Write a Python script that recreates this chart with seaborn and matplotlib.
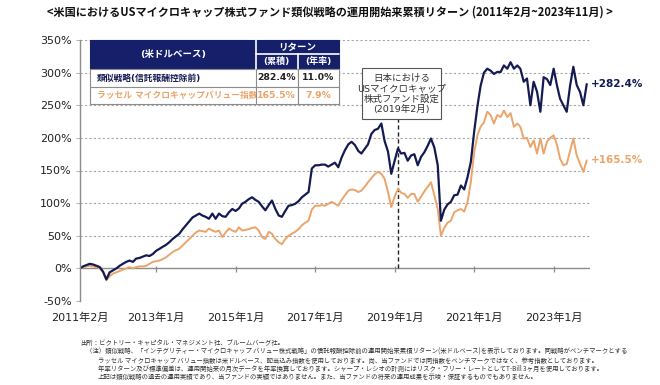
import pandas as pd
import seaborn as sns
from matplotlib import pyplot as plt
from matplotlib.patches import Rectangle

NAVY = '#141B52'
ORANGE = '#EBA46A'
HEAD = '#16206A'
GRID = '#A6A6A6'

TITLE = '<米国におけるUSマイクロキャップ株式ファンド類似戦略の運用開始来累積リターン (2011年2月~2023年11月) >'
STRATEGY = '類似戦略(信託報酬控除前)'
INDEX = 'ラッセル マイクロキャップバリュー指数'

# monthly cumulative return (%), 2011-02 .. 2023-11
strategy = [
    0, 3, 5, 7, 6, 4, 2, -5, -17, -6, -3,
    0, 4, 7, 10, 12, 10, 15, 16, 18, 20, 19, 22,
    27, 30, 33, 36, 40, 45, 49, 53, 60, 66, 72, 78,
    81, 84, 81, 79, 76, 84, 76, 84, 80, 79, 86, 91,
    88, 92, 99, 102, 106, 109, 105, 102, 95, 89, 97, 104,
    91, 81, 79, 88, 96, 97, 99, 103, 109, 113, 117, 153,
    158, 158, 159, 159, 156, 159, 162, 155, 170, 181, 190, 194,
    189, 180, 176, 183, 190, 206, 212, 214, 222, 195, 179, 145,
    165, 184, 176, 177, 165, 173, 175, 158, 171, 178, 188, 199,
    185, 158, 73, 90, 98, 102, 112, 113, 127, 121, 140, 163,
    210, 250, 280, 300, 306, 303, 298, 301, 301, 311, 306, 316,
    306, 311, 306, 286, 291, 250, 286, 271, 240, 293, 290, 281,
    306, 280, 260, 250, 240, 280, 309, 281, 270, 250, 282.4,
]
russell = [
    0, 2, 3, 4, 3, 2, 0, -6, -18, -12, -8,
    -6, -4, -2, 0, 2, 0, 2, 3, 3, 4, 7, 10,
    11, 12, 14, 17, 21, 25, 28, 30, 35, 40, 45, 50,
    55, 58, 57, 56, 61, 58, 56, 58, 48, 55, 61, 58,
    56, 63, 58, 59, 60, 62, 63, 58, 48, 45, 56, 53,
    45, 40, 37, 45, 50, 53, 56, 60, 66, 70, 73, 90,
    96, 96, 97, 96, 99, 102, 99, 96, 105, 112, 119, 121,
    120, 117, 119, 125, 132, 138, 144, 148, 145, 137, 117, 94,
    110, 122, 116, 114, 108, 114, 114, 102, 110, 118, 125, 132,
    112, 91, 50, 62, 70, 73, 86, 89, 91, 87, 102, 132,
    178, 205, 217, 224, 240, 235, 222, 235, 232, 242, 232, 238,
    217, 222, 217, 199, 200, 186, 196, 176, 199, 176, 194, 200,
    204, 189, 168, 158, 160, 180, 199, 173, 160, 148, 165.5,
]
months = pd.date_range('2011-02-01', periods=len(strategy), freq='MS')

tick_dates = pd.to_datetime(['2011-02-01', '2013-01-01', '2015-01-01', '2017-01-01',
                             '2019-01-01', '2021-01-01', '2023-01-01'])
tick_labels = ['2011年2月', '2013年1月', '2015年1月', '2017年1月',
               '2019年1月', '2021年1月', '2023年1月']
y_ticks = [-50, 0, 50, 100, 150, 200, 250, 300, 350]

table_rows = [
    [STRATEGY, '282.4%', '11.0%'],
    [INDEX, '165.5%', '7.9%'],
]
launch_date = pd.Timestamp('2019-02-01')
launch_text = '日本における\nUSマイクロキャップ\n株式ファンド設定\n(2019年2月)'

notes = [
    '出所：ビクトリー・キャピタル・マネジメント社、ブルームバーグ社。',
    '（注）類似戦略、「インテグリティー・マイクロキャップ バリュー株式戦略」の信託報酬控除前の運用開始来累積リターン(米ドルベース)を表示しております。同戦略がベンチマークとする',
    'ラッセル マイクロキャップ バリュー指数は米ドルベース、配当込み指数を使用しております。尚、当ファンドでは同指数をベンチマークではなく、参考指数としております。',
    '年率リターン及び標準偏差は、運用開始来の月次データを年率換算しております。シャープ・レシオの計測にはリスク・フリー・レートとしてT-Bill 3ヶ月を使用しております。',
    '上記は類似戦略の過去の運用実績であり、当ファンドの実績ではありません。また、当ファンドの将来の運用成果を示唆・保証するものでもありません。',
]

sns.set_theme(style='white')
plt.rcParams['font.family'] = ['DejaVu Sans', 'Noto Sans CJK JP']

W, H = 660, 385
fig = plt.figure(figsize=(6.6, 3.85), dpi=100)
ax = fig.add_axes([80 / W, 1 - 301 / H, 510 / W, 261 / H])


def fx(x):
    return x / W


def fy(y):
    return 1 - y / H


df = pd.DataFrame({'month': months, 'strategy': strategy, 'russell': russell})
sns.lineplot(data=df, x='month', y='russell', color=ORANGE, linewidth=1.4, ax=ax)
sns.lineplot(data=df, x='month', y='strategy', color=NAVY, linewidth=1.6, ax=ax)

ax.set_xlim(months[0], pd.Timestamp('2023-12-01'))
ax.set_ylim(-50, 350)
ax.set_yticks(y_ticks)
ax.set_yticklabels([f'{v}%' for v in y_ticks], fontsize=8, color='#222222')
ax.set_xticks(tick_dates)
ax.set_xticklabels(tick_labels, fontsize=8, color='#222222')
ax.tick_params(axis='x', length=0, pad=8)
ax.tick_params(axis='y', length=3, width=0.6, color=GRID, pad=3, left=True)
ax.set_xlabel('')
ax.set_ylabel('')

for v in y_ticks:
    if v != 0:
        ax.axhline(v, color=GRID, linewidth=0.8, linestyle=(0, (2, 2)), zorder=0)
ax.axhline(0, color='#8C8C8C', linewidth=1.0, zorder=1)
ax.vlines(tick_dates[1:], -5, 4, color='#8C8C8C', linewidth=0.9, zorder=1)
for side in ['top', 'right', 'bottom']:
    ax.spines[side].set_visible(False)
ax.spines['left'].set_color('#8C8C8C')
ax.spines['left'].set_linewidth(1.0)

# launch marker
ax.vlines(launch_date, 0, 231, color='#222222', linewidth=1.0, linestyle=(0, (3, 2)), zorder=1.5)
fig.add_artist(Rectangle((fx(362), fy(119)), fx(79), 51 / H, transform=fig.transFigure,
                         facecolor='white', edgecolor='#555555', linewidth=0.8, zorder=2))
fig.text(fx(401.5), fy(94), launch_text, ha='center', va='center', fontsize=6.8,
         color='#333333', linespacing=1.15, zorder=3)

# end labels
ax.annotate(f'+{strategy[-1]}%', (months[-1], strategy[-1]), xytext=(3, 0),
            textcoords='offset points', ha='left', va='center', fontsize=7.5,
            fontweight='bold', color=NAVY, annotation_clip=False)
ax.annotate(f'+{russell[-1]}%', (months[-1], russell[-1]), xytext=(3, 0),
            textcoords='offset points', ha='left', va='center', fontsize=7.5,
            fontweight='bold', color=ORANGE, annotation_clip=False)

# summary table
x0, x1, x2, x3 = 90, 255.7, 297.7, 339.3
y0, ym, y1, y2, y3 = 40, 54, 69.3, 86.7, 104


def rect(xa, ya, xb, yb, fc, ec, lw, z):
    fig.add_artist(Rectangle((fx(xa), fy(yb)), (xb - xa) / W, (yb - ya) / H,
                             transform=fig.transFigure, facecolor=fc, edgecolor=ec,
                             linewidth=lw, zorder=z))


rect(x0, y0, x3, y1, HEAD, HEAD, 0.8, 4)
fig.add_artist(plt.Line2D([fx(x1), fx(x1)], [fy(y0), fy(y1)], color='white', lw=1.2, zorder=5))
fig.add_artist(plt.Line2D([fx(x1), fx(x3)], [fy(ym), fy(ym)], color='white', lw=1.2, zorder=5))
fig.add_artist(plt.Line2D([fx(x2), fx(x2)], [fy(ym), fy(y1)], color='white', lw=1.2, zorder=5))
fig.text(fx((x0 + x1) / 2), fy((y0 + y1) / 2), '(米ドルベース)', ha='center', va='center',
         fontsize=6.8, fontweight='bold', color='white', zorder=6)
fig.text(fx((x1 + x3) / 2), fy((y0 + ym) / 2), 'リターン', ha='center', va='center',
         fontsize=6.8, fontweight='bold', color='white', zorder=6)
fig.text(fx((x1 + x2) / 2), fy((ym + y1) / 2), '(累積)', ha='center', va='center',
         fontsize=6.5, fontweight='bold', color='white', zorder=6)
fig.text(fx((x2 + x3) / 2), fy((ym + y1) / 2), '(年率)', ha='center', va='center',
         fontsize=6.5, fontweight='bold', color='white', zorder=6)

rect(x0, y1, x3, y3, 'white', '#8C8C8C', 0.8, 4)
row_y = [(y1, y2), (y2, y3)]
row_colors = [NAVY, ORANGE]
num_colors = ['#222222', ORANGE]
for (ya, yb), row, c, nc in zip(row_y, table_rows, row_colors, num_colors):
    fig.text(fx(x0 + 7), fy((ya + yb) / 2), row[0], ha='left', va='center', fontsize=6.3,
             fontweight='bold', color=c, zorder=5)
    rect(x1, ya, x2, yb, 'white', '#8C8C8C', 0.8, 6)
    rect(x2, ya, x3, yb, 'white', '#8C8C8C', 0.8, 6)
    fig.text(fx((x1 + x2) / 2), fy((ya + yb) / 2), row[1], ha='center', va='center',
             fontsize=6.7, fontweight='bold', color=nc, zorder=7)
    fig.text(fx((x2 + x3) / 2), fy((ya + yb) / 2), row[2], ha='center', va='center',
             fontsize=6.7, fontweight='bold', color=nc, zorder=7)
fig.add_artist(plt.Line2D([fx(x0), fx(x1)], [fy(y2), fy(y2)], color='#8C8C8C', lw=0.8, zorder=6))

fig.text(0.5, fy(12), TITLE, ha='center', va='center', fontsize=8.0, fontweight='bold',
         color='#111111', family=['Noto Sans CJK JP', 'DejaVu Sans'])

note_pos = [(80, 343), (86, 352), (98, 361), (98, 369), (98, 377)]
for (x, y), t in zip(note_pos, notes):
    fig.text(fx(x), fy(y), t, ha='left', va='center', fontsize=4.6, color='#333333',
             family=['Noto Sans CJK JP', 'DejaVu Sans'])

fig.savefig('out.png', dpi=100)
